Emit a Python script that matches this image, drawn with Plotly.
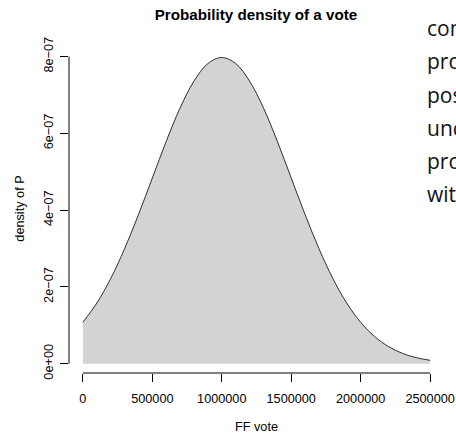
import plotly.graph_objects as go

# FF vote values (x) and the density (y)
votes = [0, 100000, 200000, 300000, 400000, 500000, 600000, 700000, 800000, 900000,
         1000000, 1100000, 1200000, 1300000, 1400000, 1500000, 1600000, 1700000,
         1800000, 1900000, 2000000, 2100000, 2200000, 2300000, 2400000, 2500000]
density = [1.080e-7, 1.579e-7, 2.218e-7, 2.995e-7, 3.884e-7, 4.839e-7, 5.794e-7, 6.665e-7,
           7.365e-7, 7.821e-7, 7.979e-7, 7.821e-7, 7.365e-7, 6.665e-7, 5.794e-7, 4.839e-7,
           3.884e-7, 2.995e-7, 2.218e-7, 1.579e-7, 1.080e-7, 0.709e-7, 0.448e-7, 0.271e-7,
           0.158e-7, 0.0886e-7]

x_ticks = [0, 500000, 1000000, 1500000, 2000000, 2500000]
x_tick_labels = ["0", "500000", "1000000", "1500000", "2000000", "2500000"]
y_ticks = [0, 2e-7, 4e-7, 6e-7, 8e-7]
y_tick_labels = ["0e+00", "2e\u221207", "4e\u221207", "6e\u221207", "8e\u221207"]

side_text = ["con", "pro", "pos", "unc", "pro", "with"]

FONT = "Liberation Sans, Arial, Helvetica, sans-serif"

fig = go.Figure()
fig.add_trace(go.Scatter(x=votes, y=density, mode="lines", fill="tozeroy",
                         fillcolor="#D3D3D3", line=dict(width=0, shape="spline"),
                         hoverinfo="skip", showlegend=False))
fig.add_trace(go.Scatter(x=votes, y=density, mode="lines",
                         line=dict(color="black", width=0.8, shape="spline"),
                         showlegend=False))

# R-style axis lines spanning only the tick range
fig.add_shape(type="line", xref="x", yref="paper", x0=x_ticks[0], x1=x_ticks[-1], y0=0, y1=0,
              line=dict(color="black", width=1))
fig.add_shape(type="line", xref="paper", yref="y", x0=0, x1=0, y0=y_ticks[0], y1=y_ticks[-1],
              line=dict(color="black", width=1))

fig.update_xaxes(range=[-100000, 2600000], tickvals=x_ticks, ticktext=x_tick_labels,
                 ticks="outside", ticklen=8, tickwidth=1, tickcolor="black",
                 showgrid=False, zeroline=False, showline=False, automargin=False,
                 tickfont=dict(family=FONT, size=12.7, color="black"),
                 ticklabelstandoff=6,
                 title=dict(text="FF vote", font=dict(family=FONT, size=12.7, color="black"),
                            standoff=16))
fig.update_yaxes(range=[-2.42e-8, 8.33e-7], tickvals=y_ticks, ticktext=y_tick_labels,
                 ticks="outside", ticklen=8, tickwidth=1, tickcolor="black", tickangle=-90,
                 showgrid=False, zeroline=False, showline=False, automargin=False,
                 tickfont=dict(family=FONT, size=12.7, color="black"),
                 ticklabelstandoff=2,
                 title=dict(text="density of P", font=dict(family=FONT, size=12.7, color="black"),
                            standoff=14))

for i, t in enumerate(side_text):
    fig.add_annotation(text=t, xref="paper", yref="paper", x=(425 - 69) / 375,
                       y=1 + (44 - (28 + 33.3 * i)) / 329, xanchor="left", yanchor="middle",
                       showarrow=False, font=dict(family="Open Sans, Noto Sans, sans-serif",
                                                  size=21, color="#111111"))

fig.update_layout(
    template="none",
    width=456, height=434,
    margin=dict(l=69, r=12, t=44, b=61, autoexpand=False),
    paper_bgcolor="white", plot_bgcolor="white",
    title=dict(text="<b>Probability density of a vote</b>", x=(256 / 456), xanchor="center",
               y=1 - 15 / 434, yanchor="middle",
               font=dict(family=FONT, size=15.2, color="black")),
)

fig.write_html("out.html", config={"displayModeBar": False},
               post_script="document.body.style.margin='0';")
